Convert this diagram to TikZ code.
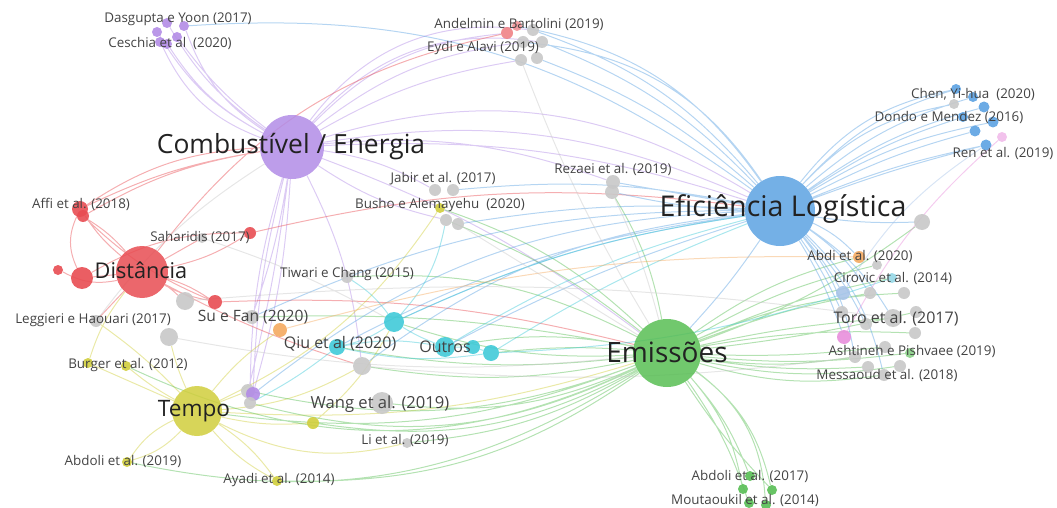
\documentclass[tikz,border=0pt]{standalone}
\usepackage{fontspec}
\setmainfont{Open Sans}
\usetikzlibrary{backgrounds}

\definecolor{combcol}{RGB}{178,140,230}
\definecolor{eficcol}{RGB}{92,162,226}
\definecolor{emiscol}{RGB}{88,190,84}
\definecolor{distcol}{RGB}{232,76,82}
\definecolor{tempocol}{RGB}{208,206,60}
\definecolor{outcol}{RGB}{64,202,216}
\definecolor{papercol}{RGB}{200,200,200}
\definecolor{orangecol}{RGB}{244,170,96}
\definecolor{pinkcol}{RGB}{232,142,220}
\definecolor{ltblue}{RGB}{168,196,232}
\definecolor{ltcyan}{RGB}{150,215,230}
\definecolor{txtcol}{RGB}{34,34,34}

\tikzset{
    dot/.style={
        circle,
        inner sep=0pt,
        minimum size=#1,
        fill opacity=0.9
    },
    dot/.default=11pt,
    paper/.style={dot=#1, fill=papercol},
    paper/.default=11pt,
    hub/.style={
        circle,
        inner sep=0pt,
        minimum size=#1,
        fill opacity=0.85
    },
    hubtext/.style={text=txtcol, inner sep=0pt, font=\fontsize{26.4}{27}\selectfont},
    midtext/.style={text=txtcol!85, inner sep=0pt, font=\fontsize{16}{17}\selectfont},
    smalltext/.style={text=txtcol!85, inner sep=0pt, font=\fontsize{13.4}{14}\selectfont},
    link/.style={draw=#1, line width=1pt, draw opacity=0.45}
}

\begin{document}
\begin{tikzpicture}[x=1pt, y=-1pt]
    \useasboundingbox (0,0) rectangle (1057,508);

    % hubs
    \node[hub=64pt, fill=combcol] (comb) at (292,147) {};
    \node[hub=70pt, fill=eficcol] (efic) at (780,211) {};
    \node[hub=68pt, fill=emiscol] (emis) at (667,353) {};
    \node[hub=52pt, fill=distcol] (dist) at (142,272) {};
    \node[hub=50pt, fill=tempocol] (tempo) at (197,411) {};

    % outros
    \node[dot=20pt, fill=outcol] (outros) at (445,347) {};
    \node[dot=20pt, fill=outcol] (out1) at (394,322) {};
    \node[dot=14pt, fill=outcol] (out2) at (473,347) {};
    \node[dot=16pt, fill=outcol] (out3) at (491,353) {};
    \node[dot=16pt, fill=outcol] (qiu) at (337,347) {};

    % top left, purple
    \node[dot=10pt, fill=combcol] (das1) at (157,32) {};
    \node[dot=10pt, fill=combcol] (das2) at (167,23) {};
    \node[dot=10pt, fill=combcol] (das3) at (184,26) {};
    \node[dot=10pt, fill=combcol] (ces1) at (160,42) {};
    \node[dot=10pt, fill=combcol] (ces2) at (177,37) {};
    \node[dot=10pt, fill=combcol] (ces3) at (167,44) {};

    % top middle
    \node[dot=12pt, fill=distcol!70] (and1) at (507,33) {};
    \node[dot=10pt, fill=distcol!60] (and2) at (517,26) {};
    \node[paper=12pt] (eyd1) at (533,30) {};
    \node[paper=12pt] (eyd2) at (523,42) {};
    \node[paper=12pt] (eyd3) at (542,42) {};
    \node[paper=12pt] (eyd4) at (521,60) {};
    \node[paper=12pt] (eyd5) at (537,58) {};

    % jabir / busho
    \node[paper=12pt] (jab1) at (435,190) {};
    \node[paper=12pt] (jab2) at (453,190) {};
    \node[dot=10pt, fill=tempocol] (bus) at (440,208) {};
    \node[paper=12pt] (jab3) at (446,220) {};
    \node[paper=12pt] (jab4) at (458,224) {};
    \node[paper=14pt] (rez1) at (613,182) {};
    \node[paper=14pt] (rez2) at (612,192) {};

    % top right, blue
    \node[dot=10pt, fill=eficcol] (chen1) at (956,89) {};
    \node[dot=10pt, fill=eficcol] (chen2) at (973,97) {};
    \node[paper=10pt] (chen3) at (954,104) {};
    \node[dot=11pt, fill=eficcol] (chen4) at (984,107) {};
    \node[dot=10pt, fill=eficcol] (don1) at (963,117) {};
    \node[dot=11pt, fill=eficcol] (don2) at (993,122) {};
    \node[dot=11pt, fill=eficcol] (don3) at (975,131) {};
    \node[dot=10pt, fill=pinkcol!60] (renp) at (1002,137) {};
    \node[dot=11pt, fill=eficcol] (ren1) at (986,145) {};
    \node[paper=16pt] (effar) at (922,222) {};

    % right middle
    \node[dot=12pt, fill=orangecol] (abdi) at (859,257) {};
    \node[paper=10pt] (rm1) at (877,265) {};
    \node[dot=10pt, fill=ltcyan] (cir) at (892,278) {};
    \node[dot=14pt, fill=ltblue] (rm2) at (843,293) {};
    \node[paper=12pt] (rm3) at (870,293) {};
    \node[paper=12pt] (rm4) at (904,293) {};
    \node[paper=12pt] (rm12) at (842,312) {};
    \node[paper=12pt] (rm5) at (916,312) {};
    \node[paper=18pt] (toro) at (893,318) {};
    \node[paper=12pt] (rm6) at (866,324) {};
    \node[dot=14pt, fill=pinkcol] (ash) at (844,337) {};
    \node[paper=12pt] (rm7) at (915,333) {};
    \node[paper=12pt] (rm8) at (885,347) {};
    \node[dot=10pt, fill=emiscol!70] (ashg) at (910,353) {};
    \node[paper=12pt] (rm9) at (855,357) {};
    \node[paper=12pt] (rm10) at (868,367) {};
    \node[paper=12pt] (rm11) at (900,366) {};
    \node[paper=12pt] (mes) at (884,375) {};

    % bottom, green
    \node[dot=10pt, fill=emiscol] (b1) at (750,476) {};
    \node[dot=10pt, fill=emiscol] (b2) at (743,489) {};
    \node[dot=10pt, fill=emiscol] (b3) at (772,490) {};
    \node[dot=10pt, fill=emiscol] (b4) at (749,503) {};
    \node[dot=10pt, fill=emiscol] (b5) at (766,505) {};

    % left, red
    \node[dot=16pt, fill=distcol] (affi1) at (80,209) {};
    \node[dot=12pt, fill=distcol] (affi2) at (83,216) {};
    \node[dot=12pt, fill=distcol] (sahr) at (250,233) {};
    \node[paper=10pt] (sahg) at (202,238) {};
    \node[dot=10pt, fill=distcol] (redsm) at (58,270) {};
    \node[dot=22pt, fill=distcol] (redbig) at (82,278) {};
    \node[paper=18pt] (g301) at (185,301) {};
    \node[dot=14pt, fill=distcol] (sured) at (215,302) {};
    \node[paper=12pt] (leg) at (96,321) {};
    \node[paper=14pt] (sug) at (252,317) {};
    \node[dot=14pt, fill=orangecol] (orng) at (280,330) {};
    \node[paper=12pt] (tiw) at (347,277) {};

    % left, yellow
    \node[paper=18pt] (tgray) at (169,337) {};
    \node[dot=10pt, fill=tempocol] (burg1) at (88,363) {};
    \node[dot=10pt, fill=tempocol] (burg2) at (126,366) {};
    \node[paper=14pt] (tg1) at (248,391) {};
    \node[dot=14pt, fill=combcol] (tpur) at (253,394) {};
    \node[paper=12pt] (tg2) at (250,403) {};
    \node[dot=12pt, fill=tempocol] (y313) at (313,423) {};
    \node[dot=10pt, fill=tempocol] (abd19) at (127,462) {};
    \node[dot=10pt, fill=tempocol] (ayadi) at (277,481) {};

    % middle, gray
    \node[paper=18pt] (wangg) at (362,366) {};
    \node[paper=22pt] (wang) at (382,403) {};
    \node[paper=10pt] (li) at (407,443) {};

    \begin{scope}[on background layer]
        % purple links
        \draw[link=combcol] (comb) to[bend left=15] (das1) (comb) to[bend left=12] (das2)
            (comb) to[bend left=18] (das3) (comb) to[bend left=22] (ces1)
            (comb) to[bend left=8] (ces2) (comb) to[bend left=14] (ces3)
            (comb) to[bend left=20] (and1) (comb) to[bend left=15] (eyd2)
            (comb) to[bend left=10] (eyd4) (comb) to[bend left=10] (jab1)
            (comb) to[bend right=10] (jab3) (comb) to[bend left=12] (rez1)
            (comb) to[bend left=10] (efic) (comb) to[bend left=16] (efic)
            (comb) to[bend left=24] (efic) (comb) to[bend left=30] (eyd1)
            (comb) to[bend left=28] (eyd3)
            (comb) to[bend left=6] (tpur) (comb) to[bend right=6] (tpur)
            (comb) to[bend left=3] (tg1) (comb) to[bend right=8] (tg2)
            (comb) to[bend left=5] (sug) (comb) to[bend left=10] (wangg)
            (comb) to[bend left=8] (emis);
        % red links
        \draw[link=distcol] (dist) to[bend left=8] (affi1) (dist) to[bend right=8] (affi2)
            (dist) to (redbig) (dist) to[bend left=20] (redsm) (redbig) to[bend left=25] (affi1)
            (dist) to[bend right=10] (sahr) (dist) to (sahg) (dist) to[bend left=5] (g301)
            (dist) to[bend left=8] (sured) (dist) to[bend right=8] (sured) (dist) to (leg)
            (affi1) to[bend left=15] (comb) (affi2) to[bend left=10] (comb)
            (affi1) to[bend left=8] (comb) (dist) to[bend left=20] (and1)
            (redbig) to[bend left=15] (sahr) (sured) to[bend left=8] (emis)
            (dist) to[bend right=5] (wangg) (affi2) to[bend right=10] (sured)
            (sahr) to[bend left=10] (efic);
        % yellow links
        \draw[link=tempocol] (tempo) to (burg1) (tempo) to[bend left=5] (burg2)
            (tempo) to[bend left=15] (abd19) (tempo) to[bend right=15] (abd19)
            (tempo) to[bend right=10] (ayadi) (tempo) to[bend left=10] (ayadi)
            (tempo) to[bend right=8] (y313) (tempo) to[bend right=15] (bus)
            (tempo) to[bend left=5] (tgray) (tempo) to[bend right=5] (leg)
            (tempo) to[bend right=10] (emis) (tempo) to[bend left=8] (orng)
            (tempo) to (tg1) (tempo) to[bend right=12] (wangg)
            (burg1) to[bend left=10] (dist) (tempo) to[bend right=20] (li)
            (y313) to[bend right=10] (out1);
        % green links
        \draw[link=emiscol] (emis) to[bend left=10] (b1) (emis) to[bend left=15] (b2)
            (emis) to[bend left=20] (b3) (emis) to[bend left=8] (b4)
            (emis) to[bend left=25] (b5) (emis) to[bend right=5] (b3)
            (emis) to[bend left=10] (abdi) (emis) to[bend left=8] (rm1)
            (emis) to[bend left=6] (cir) (emis) to[bend left=5] (rm3)
            (emis) to[bend left=10] (rm4) (emis) to[bend left=4] (toro)
            (emis) to[bend left=6] (rm7) (emis) to[bend right=4] (rm8)
            (emis) to[bend right=6] (ashg) (emis) to[bend right=8] (rm9)
            (emis) to[bend right=10] (rm11) (emis) to[bend right=12] (mes)
            (emis) to[bend right=6] (rm10) (emis) to[bend right=3] (rm5)
            (emis) to[bend right=10] (outros) (emis) to[bend right=5] (out3)
            (emis) to[bend left=8] (qiu) (emis) to[bend left=10] (wangg)
            (emis) to[bend left=15] (wang) (emis) to[bend left=12] (li)
            (emis) to[bend left=18] (y313) (emis) to[bend left=20] (tg2)
            (emis) to[bend left=16] (tg1) (emis) to[bend left=10] (out1)
            (emis) to[bend left=25] (burg2) (emis) to[bend left=18] (ayadi)
            (emis) to[bend right=8] (jab3) (emis) to[bend right=12] (bus)
            (emis) to[bend right=10] (rez2) (emis) to[bend right=15] (tiw)
            (emis) to[bend right=6] (sug) (emis) to[bend left=14] (tempo)
            (emis) to[bend left=22] (abd19) (emis) to[bend right=8] (effar);
        % blue links
        \draw[link=eficcol] (efic) to[bend left=15] (chen1) (efic) to[bend left=12] (chen2)
            (efic) to[bend left=10] (chen4) (efic) to[bend left=8] (don1)
            (efic) to[bend left=10] (don2) (efic) to[bend left=6] (don3)
            (efic) to[bend left=5] (ren1) (efic) to[bend left=18] (chen3)
            (efic) to[bend left=20] (chen1) (efic) to[bend left=3] (ren1)
            (efic) to[bend right=5] (effar) (efic) to (rez1) (efic) to[bend left=5] (rez2)
            (efic) to[bend right=15] (eyd1) (efic) to[bend right=12] (eyd3)
            (efic) to[bend right=10] (eyd5) (efic) to[bend right=8] (jab2)
            (efic) to[bend right=22] (and2) (efic) to[bend right=25] (eyd2)
            (efic) to[bend right=6] (jab4) (efic) to[bend left=10] (abdi)
            (efic) to[bend left=5] (rm2) (efic) to[bend left=10] (rm3)
            (efic) to[bend left=8] (rm6) (efic) to[bend left=12] (toro)
            (efic) to[bend left=6] (ash) (efic) to[bend left=14] (rm9)
            (efic) to[bend left=16] (mes) (efic) to[bend left=5] (rm12)
            (efic) to[bend right=8] (out1) (efic) to[bend right=5] (outros)
            (efic) to[bend right=10] (qiu) (efic) to[bend right=12] (sug)
            (efic) to[bend right=15] (wangg)
            (efic) to[bend right=18] (tpur) (efic) to[bend left=4] (emis)
            (efic) to[bend right=20] (das3);
        % cyan links
        \draw[link=outcol] (out1) to[bend left=10] (qiu) (out1) to[bend right=10] (tiw)
            (out1) to[bend left=8] (efic) (out1) to[bend right=5] (outros)
            (outros) to (out2) (out2) to (out3) (out3) to[bend left=5] (efic)
            (outros) to[bend left=8] (efic) (qiu) to[bend left=10] (outros)
            (qiu) to[bend left=5] (tg2) (out1) to[bend right=15] (jab3)
            (out3) to[bend right=8] (cir) (qiu) to[bend right=10] (out3);
        % small clusters
        \draw[link=orangecol] (orng) to[bend left=8] (abdi);
        \draw[link=pinkcol] (ash) to[bend left=10] (renp);
        \draw[link=ltblue] (rm2) to[bend left=12] (ren1);
        \draw[link=papercol] (eyd4) to[bend right=5] (emis) (jab4) to (emis)
            (rez2) to[bend left=5] (emis) (tgray) to[bend right=8] (emis)
            (g301) to[bend left=6] (toro) (leg) to[bend left=10] (comb)
            (wangg) to[bend right=6] (rm9) (sahg) to[bend left=5] (out1);
    \end{scope}

    % labels
    \node[hubtext] (comb-lbl) at (291,147) {Combustível / Energia};
    \node[hubtext, font=\fontsize{28.6}{29}\selectfont] (efic-lbl) at (783,209) {Eficiência Logística};
    \node[hubtext, font=\fontsize{28}{29}\selectfont] (emis-lbl) at (667,352) {Emissões};
    \node[hubtext, font=\fontsize{21.7}{22}\selectfont] (dist-lbl) at (141,270) {Distância};
    \node[hubtext, font=\fontsize{22.6}{23}\selectfont] (tempo-lbl) at (194,411) {Tempo};
    \node[midtext] (outros-lbl) at (445,347) {Outros};
    \node[smalltext] (das-lbl) at (178,19) {Dasgupta e Yoon (2017)};
    \node[smalltext] (ces-lbl) at (170,43) {Ceschia et al~~(2020)};
    \node[smalltext] (and-lbl) at (519,24) {Andelmin e Bartolini (2019)};
    \node[smalltext] (eyd-lbl) at (483,48) {Eydi e Alavi (2019)};
    \node[smalltext] (jab-lbl) at (443,179) {Jabir et al. (2017)};
    \node[smalltext] (bus-lbl) at (440,205) {Busho e Alemayehu~~(2020)};
    \node[smalltext] (rez-lbl) at (613,169) {Rezaei et al. (2019)};
    \node[smalltext] (chen-lbl) at (973,94) {Chen, Yi-hua~~(2020)};
    \node[smalltext] (don-lbl) at (949,117) {Dondo e Mendez (2016)};
    \node[smalltext] (ren-lbl) at (1003,153) {Ren et al. (2019)};
    \node[smalltext] (affi-lbl) at (81,204) {Affi et al. (2018)};
    \node[smalltext] (sah-lbl) at (200,237) {Saharidis (2017)};
    \node[smalltext] (tiw-lbl) at (347,274) {Tiwari e Chang (2015)};
    \node[smalltext] (leg-lbl) at (93,320) {Leggieri e Haouari (2017)};
    \node[midtext, font=\fontsize{15.6}{16}\selectfont] (su-lbl) at (253,317) {Su e Fan (2020)};
    \node[midtext] (qiu-lbl) at (340,344) {Qiu et al (2020)};
    \node[smalltext] (burg-lbl) at (128,365) {Burger et al. (2012)};
    \node[midtext, font=\fontsize{16.6}{17}\selectfont] (wang-lbl) at (380,404) {Wang et al. (2019)};
    \node[smalltext] (li-lbl) at (405,440) {Li et al. (2019)};
    \node[smalltext] (abd19-lbl) at (123,461) {Abdoli et al. (2019)};
    \node[smalltext] (ayadi-lbl) at (279,480) {Ayadi et al. (2014)};
    \node[smalltext] (abdi-lbl) at (860,256) {Abdi et al. (2020)};
    \node[smalltext] (cir-lbl) at (893,278) {Cirovic et al. (2014)};
    \node[midtext] (toro-lbl) at (896,319) {Toro et al. (2017)};
    \node[smalltext] (ash-lbl) at (912,351) {Ashtineh e Pishvaee (2019)};
    \node[smalltext] (mes-lbl) at (887,375) {Messaoud et al. (2018)};
    \node[smalltext] (abd17-lbl) at (750,476) {Abdoli et al. (2017)};
    \node[smalltext] (mou-lbl) at (745,500) {Moutaoukil et al. (2014)};
\end{tikzpicture}
\end{document}
